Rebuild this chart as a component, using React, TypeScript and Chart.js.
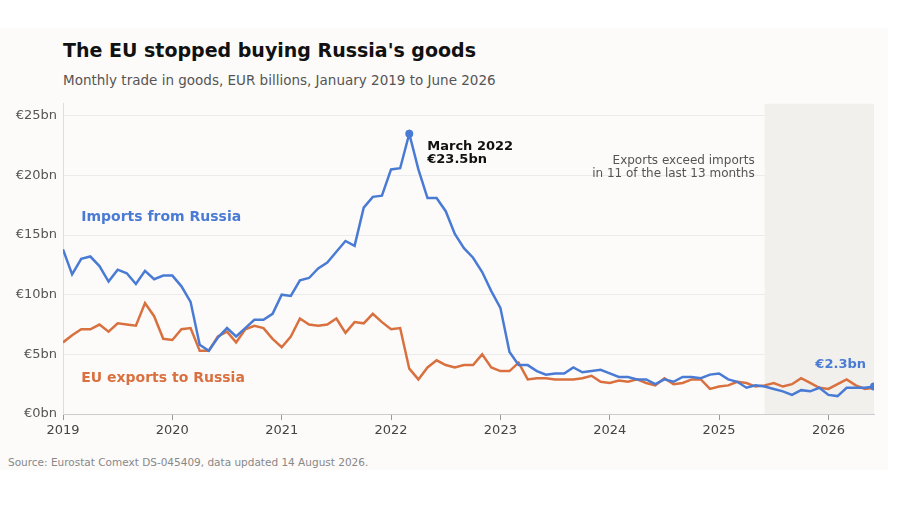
import React, { useEffect, useRef } from "react";
import { Chart, registerables } from "chart.js";
Chart.register(...registerables);

const years = ["2019", "2020", "2021", "2022", "2023", "2024", "2025", "2026"];
const imports = [
  13.8, 11.7, 13.0, 13.2, 12.4, 11.1, 12.1, 11.8, 10.9, 12.0, 11.3, 11.6,
  11.6, 10.7, 9.4, 5.8, 5.3, 6.4, 7.2, 6.5, 7.2, 7.9, 7.9, 8.4,
  10.0, 9.9, 11.2, 11.4, 12.2, 12.7, 13.6, 14.5, 14.1, 17.3, 18.2, 18.3,
  20.5, 20.6, 23.5, 20.5, 18.1, 18.1, 17.0, 15.1, 13.9, 13.1, 11.9, 10.3,
  8.9, 5.2, 4.1, 4.1, 3.6, 3.3, 3.4, 3.4, 3.9, 3.5, 3.6, 3.7,
  3.4, 3.1, 3.1, 2.9, 2.9, 2.5, 2.9, 2.7, 3.1, 3.1, 3.0, 3.3,
  3.4, 2.9, 2.7, 2.2, 2.4, 2.3, 2.1, 1.9, 1.6, 2.0, 1.9, 2.2,
  1.6, 1.5, 2.2, 2.2, 2.2, 2.3,
];
const exportsEU = [
  6.0, 6.6, 7.1, 7.1, 7.5, 6.9, 7.6, 7.5, 7.4, 9.3, 8.2, 6.3,
  6.2, 7.1, 7.2, 5.3, 5.3, 6.5, 6.9, 6.0, 7.1, 7.4, 7.2, 6.3,
  5.6, 6.5, 8.0, 7.5, 7.4, 7.5, 8.0, 6.8, 7.7, 7.6, 8.4, 7.7,
  7.1, 7.2, 3.8, 2.9, 3.9, 4.5, 4.1, 3.9, 4.1, 4.1, 5.0, 3.9,
  3.6, 3.6, 4.3, 2.9, 3.0, 3.0, 2.9, 2.9, 2.9, 3.0, 3.2, 2.7,
  2.6, 2.8, 2.7, 2.9, 2.6, 2.4, 3.0, 2.5, 2.6, 2.9, 2.9, 2.1,
  2.3, 2.4, 2.7, 2.6, 2.3, 2.4, 2.6, 2.3, 2.5, 3.0, 2.6, 2.2,
  2.1, 2.5, 2.9, 2.4, 2.1, 2.2,
];
const yTicks = [0, 5, 10, 15, 20, 25];
const peakIndex = 38;
const shadeStart = 77;

const BLUE = "#4a7bd4";
const ORANGE = "#d9703f";
const FONT = "'DejaVu Sans', sans-serif";

export default function App() {
  const ref = useRef<HTMLCanvasElement>(null);
  useEffect(() => {
    document.body.style.margin = "0";
    const n = imports.length;
    const pr = (i: number) => (i === peakIndex || i === n - 1 ? 4 : 0);
    const overlay = {
      id: "overlay",
      beforeDatasetsDraw(chart: any) {
        const { ctx, chartArea: a, scales } = chart;
        const x0 = scales.x.getPixelForValue(shadeStart);
        ctx.save();
        ctx.fillStyle = "#f1f0ec";
        ctx.fillRect(x0, a.top, a.right - x0, a.bottom - a.top);
        ctx.restore();
      },
      afterDatasetsDraw(chart: any) {
        const { ctx, scales } = chart;
        const x = scales.x, y = scales.y;
        ctx.save();
        ctx.textBaseline = "middle";
        ctx.fillStyle = "#111";
        ctx.font = `bold 13px ${FONT}`;
        const px = x.getPixelForValue(peakIndex) + 18;
        ctx.fillText("March 2022", px, y.getPixelForValue(22.4));
        ctx.fillText("€23.5bn", px, y.getPixelForValue(21.3));
        ctx.font = `bold 14px ${FONT}`;
        ctx.fillStyle = BLUE;
        ctx.fillText("Imports from Russia", x.getPixelForValue(2), y.getPixelForValue(16.5));
        ctx.fillStyle = ORANGE;
        ctx.fillText("EU exports to Russia", x.getPixelForValue(2), y.getPixelForValue(2.95));
        ctx.font = `12px ${FONT}`;
        ctx.fillStyle = "#555";
        ctx.textAlign = "right";
        const ex = x.getPixelForValue(shadeStart) - 10;
        ctx.fillText("Exports exceed imports", ex, y.getPixelForValue(21.2));
        ctx.fillText("in 11 of the last 13 months", ex, y.getPixelForValue(20.1));
        ctx.font = `bold 13px ${FONT}`;
        ctx.fillStyle = BLUE;
        ctx.fillText("€2.3bn", x.getPixelForValue(n - 1) - 8, y.getPixelForValue(4.1));
        ctx.restore();
      },
    };
    const chart = new Chart(ref.current!, {
      type: "line",
      data: {
        datasets: [
          {
            data: imports.map((v, i) => ({ x: i, y: v })),
            borderColor: BLUE,
            backgroundColor: BLUE,
            borderWidth: 2.5,
            pointRadius: imports.map((_, i) => pr(i)),
            pointBorderWidth: 0,
            tension: 0,
          },
          {
            data: exportsEU.map((v, i) => ({ x: i, y: v })),
            borderColor: ORANGE,
            backgroundColor: ORANGE,
            borderWidth: 2.5,
            pointRadius: 0,
            tension: 0,
          },
        ],
      },
      options: {
        animation: false,
        responsive: false,
        layout: { padding: { top: 7, right: 14, left: 0, bottom: 0 } },
        plugins: { legend: { display: false }, tooltip: { enabled: false } },
        scales: {
          x: {
            type: "linear",
            min: 0,
            max: n - 1,
            afterBuildTicks: (s: any) => {
              s.ticks = years.map((_, i) => ({ value: i * 12 }));
            },
            afterFit: (s: any) => {
              s.height = 26;
            },
            ticks: {
              callback: (v: any) => years[Math.round(Number(v) / 12)],
              color: "#444",
              font: { family: FONT, size: 13 },
              maxRotation: 0,
              autoSkip: false,
            },
            grid: { drawOnChartArea: false, tickLength: 6, color: "#999" },
            border: { color: "#ccc" },
          },
          y: {
            min: 0,
            max: 26,
            afterBuildTicks: (s: any) => {
              s.ticks = yTicks.map((v) => ({ value: v }));
            },
            afterFit: (s: any) => {
              s.width = 63;
            },
            ticks: {
              callback: (v: any) => `€${v}bn`,
              color: "#555",
              font: { family: FONT, size: 13 },
              padding: 6,
            },
            grid: { color: "#ebebeb", drawTicks: false },
            border: { color: "#ddd" },
          },
        },
      },
      plugins: [overlay],
    });
    return () => chart.destroy();
  }, []);

  return (
    <div style={{ position: "relative", width: 900, height: 510, background: "#fff", fontFamily: FONT }}>
      <div style={{ position: "absolute", left: 0, top: 28, width: 888, height: 442, background: "#fcfbf9" }} />
      <div style={{ position: "absolute", left: 63, top: 39, fontSize: 19, fontWeight: "bold", color: "#111" }}>
        The EU stopped buying Russia's goods
      </div>
      <div style={{ position: "absolute", left: 63, top: 72, fontSize: 13.5, color: "#555" }}>
        Monthly trade in goods, EUR billions, January 2019 to June 2026
      </div>
      <canvas ref={ref} width={888} height={350} style={{ position: "absolute", left: 0, top: 90 }} />
      <div style={{ position: "absolute", left: 8, top: 456, fontSize: 10.5, color: "#888" }}>
        Source: Eurostat Comext DS-045409, data updated 14 August 2026.
      </div>
    </div>
  );
}
